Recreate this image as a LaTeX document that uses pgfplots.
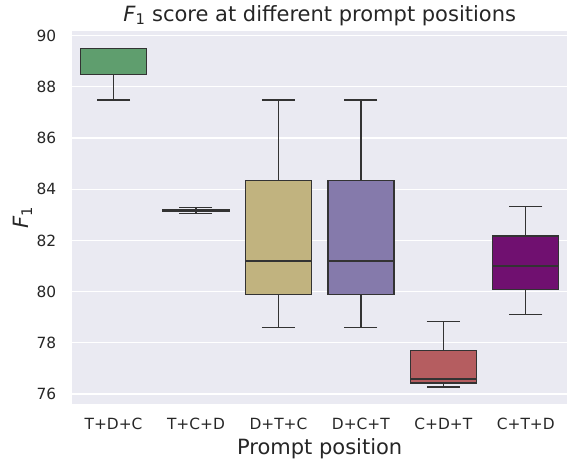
\documentclass[border=0pt]{standalone}
\usepackage{fontspec}
\setmainfont{DejaVu Sans}
\usepackage{pgfplots}
\pgfplotsset{compat=1.18}
\usepgfplotslibrary{statistics}

\definecolor{bg}{HTML}{EAEAF2}
\definecolor{txt}{HTML}{262626}
\definecolor{boxedge}{HTML}{333333}
\definecolor{cgreen}{HTML}{5F9E6E}
\definecolor{cyellow}{HTML}{C1B37F}
\definecolor{clav}{HTML}{857AAB}
\definecolor{cred}{HTML}{B55D60}
\definecolor{cpurple}{HTML}{701070}

\begin{document}
\begin{tikzpicture}
\begin{axis}[
    width=494.7pt, height=372.7pt, scale only axis,
    xmin=-0.5, xmax=5.5,
    ymin=75.62, ymax=90.18,
    axis background/.style={fill=bg},
    axis line style={draw=none},
    major tick length=0pt,
    xtick={0,...,5},
    xticklabels={T+D+C,T+C+D,D+T+C,D+C+T,C+D+T,C+T+D},
    ytick={76,78,...,90},
    ymajorgrids,
    grid style={white, line width=1.3pt},
    tick label style={font=\fontsize{15.4}{18}\selectfont, text=txt, inner sep=0pt},
    xticklabel style={anchor=north},
    yticklabel style={anchor=east},
    xticklabel shift=14.6pt,
    yticklabel shift=16pt,
    /pgf/number format/assume math mode=true,
    title={\textit{F}\textsubscript{1} score at different prompt positions},
    title style={font=\fontsize{21}{24}\selectfont, text=txt, inner sep=0pt,
        at={(axis description cs:0.5,1)}, anchor=base, yshift=4pt},
    xlabel={Prompt position},
    xlabel style={font=\fontsize{21}{24}\selectfont, text=txt, inner sep=0pt,
        at={(axis description cs:0.5,0)}, anchor=base, yshift=-51pt},
    ylabel={\textit{F}\textsubscript{1}},
    ylabel style={font=\fontsize{21}{24}\selectfont, text=txt, inner sep=0pt,
        at={(axis description cs:0,0.5)}, anchor=south, yshift=40pt},
    boxplot/draw direction=y,
    boxplot/box extend=0.8,
    boxplot/whisker extend=0.4,
    boxplot/every box/.style={draw=boxedge, line width=1.3pt},
    boxplot/every whisker/.style={draw=boxedge, line width=1.3pt},
    boxplot/every median/.style={draw=boxedge, line width=1.3pt},
    cycle list={{boxedge}},
]
% T+D+C
\addplot+[boxplot prepared={lower whisker=87.48, lower quartile=88.47,
    median=89.5, upper quartile=89.5, upper whisker=89.5, draw position=0},
    solid, draw=boxedge, fill=cgreen, line width=1.3pt, mark=none] coordinates {};
% T+C+D
\addplot+[boxplot prepared={lower whisker=83.06, lower quartile=83.12,
    median=83.17, upper quartile=83.22, upper whisker=83.28, draw position=1},
    solid, draw=boxedge, fill=cgreen, line width=1.3pt, mark=none] coordinates {};
% D+T+C
\addplot+[boxplot prepared={lower whisker=78.6, lower quartile=79.88,
    median=81.2, upper quartile=84.35, upper whisker=87.48, draw position=2},
    solid, draw=boxedge, fill=cyellow, line width=1.3pt, mark=none] coordinates {};
% D+C+T
\addplot+[boxplot prepared={lower whisker=78.6, lower quartile=79.88,
    median=81.2, upper quartile=84.35, upper whisker=87.48, draw position=3},
    solid, draw=boxedge, fill=clav, line width=1.3pt, mark=none] coordinates {};
% C+D+T
\addplot+[boxplot prepared={lower whisker=76.27, lower quartile=76.43,
    median=76.59, upper quartile=77.71, upper whisker=78.83, draw position=4},
    solid, draw=boxedge, fill=cred, line width=1.3pt, mark=none] coordinates {};
% C+T+D
\addplot+[boxplot prepared={lower whisker=79.1, lower quartile=80.07,
    median=81.0, upper quartile=82.17, upper whisker=83.32, draw position=5},
    solid, draw=boxedge, fill=cpurple, line width=1.3pt, mark=none] coordinates {};
\end{axis}
\pgfresetboundingbox
\path ([shift={(-72.3pt,-55.3pt)}]current axis.south west)
    rectangle ([shift={(1pt,31pt)}]current axis.north east);
\end{tikzpicture}
\end{document}
